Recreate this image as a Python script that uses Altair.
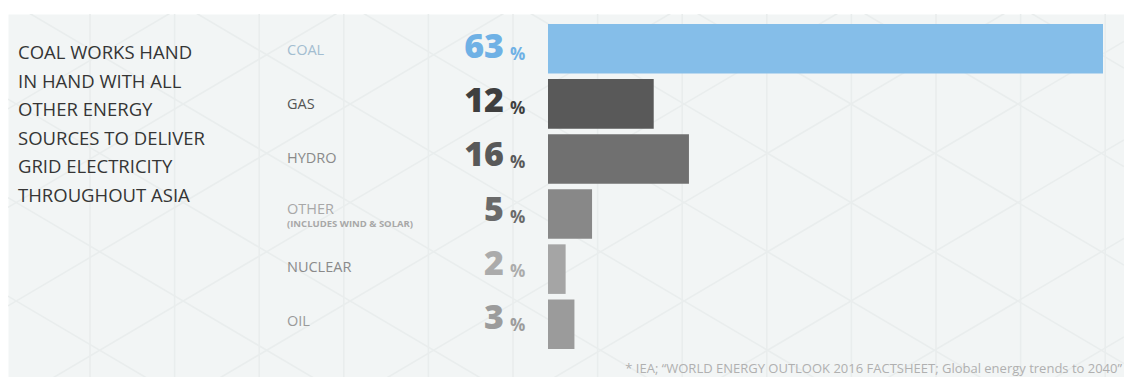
import altair as alt
import pandas as pd

# ---- data ----
categories = ["COAL", "GAS", "HYDRO", "OTHER", "NUCLEAR", "OIL"]
sublabels = ["", "", "", "(INCLUDES WIND & SOLAR)", "", ""]
shares = [63, 12, 16, 5, 2, 3]
bar_colors = ["#85bee9", "#595959", "#707070", "#888888", "#a5a5a5", "#9b9b9b"]
value_colors = ["#6fb1e5", "#3f3f3f", "#595959", "#6a6a6a", "#ababab", "#9c9c9c"]
label_colors = ["#a3bdd0", "#555555", "#8a8a8a", "#a8a8a8", "#8a8a8a", "#9a9a9a"]
headline = ["COAL WORKS HAND", "IN HAND WITH ALL", "OTHER ENERGY",
            "SOURCES TO DELIVER", "GRID ELECTRICITY", "THROUGHOUT ASIA"]
footnote = "* IEA; \u201cWORLD ENERGY OUTLOOK 2016 FACTSHEET; Global energy trends to 2040\u201d"

# ---- decorative background lattice (vertical lines + diagonal "X" pattern) ----
W, H = 1116, 363
COL_STEP, COL_START = 84.6, 82
SLOPE, ROW_STEP, X0, Y0 = 0.59, 98.5, 843, 90
pattern = []
for k in range(13):
    x = COL_START + COL_STEP * k
    pattern.append({"x": x, "x2": x, "y": 0, "y2": H})
for m in range(-2, 8):
    pattern.append({"x": 0, "x2": W,
                    "y": Y0 - SLOPE * X0 + ROW_STEP * m,
                    "y2": Y0 + SLOPE * (W - X0) + ROW_STEP * m})
for m in range(-5, 5):
    pattern.append({"x": 0, "x2": W,
                    "y": Y0 + SLOPE * X0 + ROW_STEP * m,
                    "y2": Y0 - SLOPE * (W - X0) + ROW_STEP * m})
pattern_df = pd.DataFrame(pattern)

df = pd.DataFrame({
    "category": categories,
    "sub": sublabels,
    "share": shares,
    "share_txt": [str(v) for v in shares],
    "bar_color": bar_colors,
    "value_color": value_colors,
    "label_color": label_colors,
})
one = pd.DataFrame({"k": [0]})

FONT = "Open Sans"

px_x = alt.Scale(domain=[0, W], range=[0, W])
px_y = alt.Scale(domain=[0, H], range=[0, H])
grid = alt.Chart(pattern_df).mark_rule(color="#e9eded", strokeWidth=1.6, clip=True).encode(
    x=alt.X("x:Q", scale=px_x, axis=None),
    x2="x2:Q",
    y=alt.Y("y:Q", scale=px_y, axis=None),
    y2="y2:Q",
)

y_enc = alt.Y("category:N", sort=categories,
              scale=alt.Scale(domain=categories, range=[10, 335],
                              paddingInner=0.1, paddingOuter=0),
              axis=None)

base = alt.Chart(df)

bars = base.mark_bar().encode(
    x=alt.X("share:Q", scale=alt.Scale(domain=[0, 63], range=[540, 1095], nice=False), axis=None),
    y=y_enc,
    color=alt.Color("bar_color:N", scale=None),
)

labels = base.transform_filter("datum.sub == ''").mark_text(
    align="left", baseline="middle", font=FONT, fontSize=14.5
).encode(
    x=alt.value(279), y=y_enc, text="category:N",
    color=alt.Color("label_color:N", scale=None),
)

labels_two = base.transform_filter("datum.sub != ''").mark_text(
    align="left", baseline="middle", font=FONT, fontSize=14.5, dy=-4
).encode(
    x=alt.value(279), y=y_enc, text="category:N",
    color=alt.Color("label_color:N", scale=None),
)

sub_labels = base.transform_filter("datum.sub != ''").mark_text(
    align="left", baseline="middle", font=FONT, fontSize=9.5, fontWeight="bold", dy=10
).encode(
    x=alt.value(279), y=y_enc, text="sub:N",
    color=alt.Color("label_color:N", scale=None),
)

values = base.mark_text(
    align="right", baseline="alphabetic", font=FONT, fontSize=34, fontWeight=800, dy=7
).encode(
    x=alt.value(496), y=y_enc, text="share_txt:N",
    color=alt.Color("value_color:N", scale=None),
)

pcts = base.mark_text(
    align="left", baseline="alphabetic", font=FONT, fontSize=17, fontWeight="bold", dy=9
).encode(
    x=alt.value(502), y=y_enc, text=alt.value("%"),
    color=alt.Color("value_color:N", scale=None),
)

para = alt.Chart(one).mark_text(
    align="left", baseline="alphabetic", font=FONT, fontSize=18.5,
    lineHeight=28.5, color="#353535"
).encode(x=alt.value(10), y=alt.value(45), text=alt.value(headline))

foot = alt.Chart(one).mark_text(
    align="right", baseline="alphabetic", font=FONT, fontSize=13, color="#b0b0b0"
).encode(x=alt.value(1114), y=alt.value(359), text=alt.value(footnote))

chart = alt.layer(grid, bars, labels, labels_two, sub_labels, values, pcts, para, foot).resolve_scale(
    x="independent", y="independent"
).properties(
    width=W, height=H,
    autosize=alt.AutoSizeParams(type="none"),
    padding={"top": 6, "left": 0, "right": 0, "bottom": 0},
    background="white",
).configure_view(fill="#f2f5f5", stroke="transparent")

chart.save("out.html", embed_options={"renderer": "svg", "actions": False})
